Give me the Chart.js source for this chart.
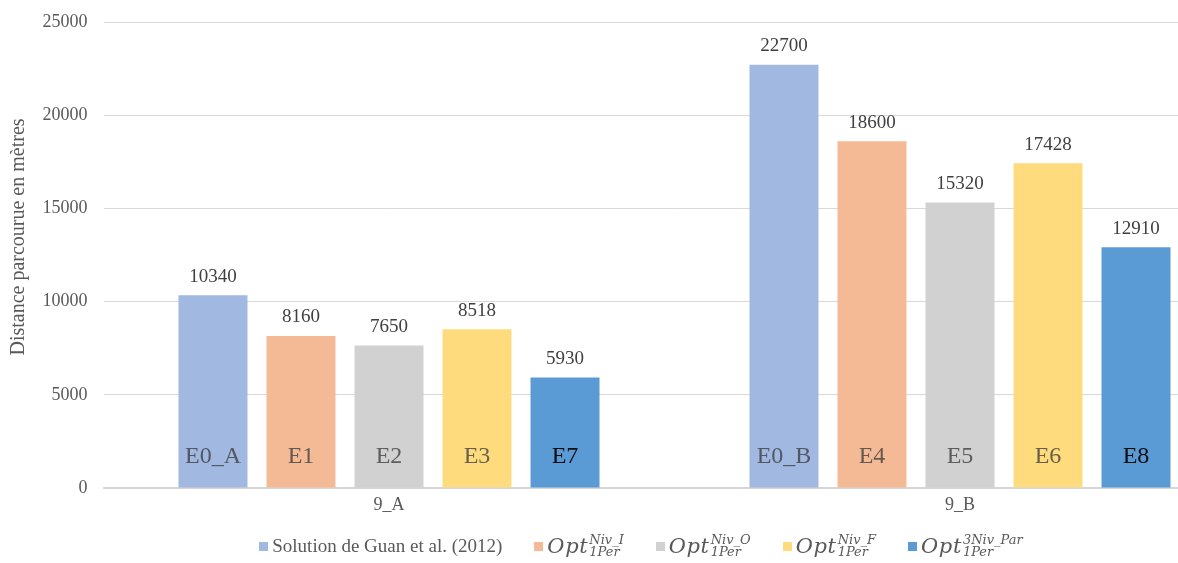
<!DOCTYPE html>
<html>
<head>
<meta charset="utf-8">
<script src="https://cdn.jsdelivr.net/npm/chart.js@4.4.1/dist/chart.umd.min.js"></script>
<style>
  html, body { margin: 0; padding: 0; background: #ffffff; width: 1178px; height: 563px; overflow: hidden; }
  #wrap { position: relative; width: 1178px; height: 563px; overflow: hidden; }
  #chart { position: absolute; left: 0; top: 0; }
  #legend {
    position: absolute; left: 0; top: 534px; width: 1282px;
    display: flex; justify-content: center; align-items: center; gap: 32px;
    font-family: "Liberation Serif", "Times New Roman", serif; color: #595959;
  }
  .item { display: flex; align-items: center; white-space: nowrap; }
  .box { width: 9px; height: 9px; margin-right: 4px; }
  .plain { font-size: 19px; }
  .opt { font-family: "DejaVu Serif", serif; font-style: italic; font-size: 21px; letter-spacing: 0.6px; }
  .scripts { display: inline-flex; flex-direction: column; font-family: "DejaVu Serif", serif; font-style: italic;
             font-size: 13px; line-height: 12px; margin-left: 1px; }
</style>
</head>
<body>
<div id="wrap">
  <canvas id="chart" width="1250" height="563"></canvas>
  <div id="legend"></div>
</div>
<script>
// Groups on the x axis
const categories = ['9_A', '9_B'];

// Distance travelled (metres) for each approach, one value per group
const guanValues = [10340, 22700];
const nivIValues = [8160, 18600];
const nivOValues = [7650, 15320];
const nivFValues = [8518, 17428];
const niv3ParValues = [5930, 12910];

// Scenario tag written at the foot of each bar
const guanTags = ['E0_A', 'E0_B'];
const nivITags = ['E1', 'E4'];
const nivOTags = ['E2', 'E5'];
const nivFTags = ['E3', 'E6'];
const niv3ParTags = ['E7', 'E8'];

// Legend entries: plain text, or Opt with superscript / subscript
const legendGuan = { text: 'Solution de Guan et al. (2012)' };
const legendNivI = { base: 'Opt', sup: 'Niv_I', sub: '1Per' };
const legendNivO = { base: 'Opt', sup: 'Niv_O', sub: '1Per' };
const legendNivF = { base: 'Opt', sup: 'Niv_F', sub: '1Per' };
const legendNiv3Par = { base: 'Opt', sup: '3Niv_Par', sub: '1Per' };

// Y axis range
const yMin = 0;
const yMax = 25000;
const yStep = 5000;
const yTitle = 'Distance parcourue en mètres';

const SERIF = '"Liberation Serif", "Times New Roman", serif';

const datasets = [
  { label: legendGuan.text, legend: legendGuan, data: guanValues, tags: guanTags, backgroundColor: '#a1b8e1', tagColor: 'rgba(60,60,60,0.78)' },
  { label: 'Opt Niv_I 1Per', legend: legendNivI, data: nivIValues, tags: nivITags, backgroundColor: '#f4ba95', tagColor: 'rgba(60,60,60,0.78)' },
  { label: 'Opt Niv_O 1Per', legend: legendNivO, data: nivOValues, tags: nivOTags, backgroundColor: '#d1d1d1', tagColor: 'rgba(60,60,60,0.78)' },
  { label: 'Opt Niv_F 1Per', legend: legendNivF, data: nivFValues, tags: nivFTags, backgroundColor: '#fedc7e', tagColor: 'rgba(60,60,60,0.78)' },
  { label: 'Opt 3Niv_Par 1Per', legend: legendNiv3Par, data: niv3ParValues, tags: niv3ParTags, backgroundColor: '#5b9bd5', tagColor: '#0d0d0d' }
].map(d => Object.assign(d, {
  borderWidth: 0,
  categoryPercentage: 0.7706,
  barPercentage: 0.784
}));

// Value above each bar, scenario tag at its foot, and the rotated y title
const barText = {
  id: 'barText',
  afterDraw(chart) {
    const ctx = chart.ctx;
    ctx.save();
    chart.data.datasets.forEach((ds, i) => {
      const meta = chart.getDatasetMeta(i);
      meta.data.forEach((bar, j) => {
        ctx.textAlign = 'center';
        ctx.textBaseline = 'bottom';
        ctx.font = '19px ' + SERIF;
        ctx.fillStyle = '#404040';
        ctx.fillText(String(ds.data[j]), bar.x, bar.y - 9);

        ctx.textBaseline = 'middle';
        ctx.font = '24px ' + SERIF;
        ctx.fillStyle = ds.tagColor;
        ctx.fillText(ds.tags[j], bar.x, bar.base - 31);
      });
    });
    ctx.translate(19, 237);
    ctx.rotate(-Math.PI / 2);
    ctx.textAlign = 'center';
    ctx.textBaseline = 'middle';
    ctx.font = '20px ' + SERIF;
    ctx.fillStyle = '#595959';
    ctx.fillText(yTitle, 0, 0);
    ctx.restore();
  }
};

const chart = new Chart(document.getElementById('chart'), {
  type: 'bar',
  data: { labels: categories, datasets },
  options: {
    responsive: false,
    animation: false,
    devicePixelRatio: 1,
    layout: { padding: { top: 22, right: 4.5, left: 0, bottom: 0 } },
    plugins: { legend: { display: false }, tooltip: { enabled: false } },
    scales: {
      x: {
        offset: true,
        grid: { display: false, drawTicks: false },
        border: { display: true, color: '#d6d6d6', width: 2 },
        ticks: { padding: 6, color: '#595959', font: { family: SERIF, size: 18 } },
        afterFit(scale) { scale.height = 75; }
      },
      y: {
        min: yMin,
        max: yMax,
        z: 1,
        grid: { color: 'rgba(0,0,0,0.15)', lineWidth: 1, drawTicks: false },
        border: { display: false },
        ticks: {
          stepSize: yStep, padding: 16, color: '#595959',
          font: { family: SERIF, size: 18 },
          callback: v => String(v)
        },
        afterFit(scale) {
          scale.width = 103.5;
          scale.paddingTop = 0;
          scale.paddingBottom = 0;
        }
      }
    }
  },
  plugins: [barText]
});

// HTML legend built from the chart's datasets
const legendEl = document.getElementById('legend');
chart.data.datasets.forEach(ds => {
  const item = document.createElement('div');
  item.className = 'item';
  const box = document.createElement('span');
  box.className = 'box';
  box.style.background = ds.backgroundColor;
  item.appendChild(box);
  const lg = ds.legend;
  if (lg.text) {
    const t = document.createElement('span');
    t.className = 'plain';
    t.textContent = lg.text;
    item.appendChild(t);
  } else {
    const b = document.createElement('span');
    b.className = 'opt';
    b.textContent = lg.base;
    item.appendChild(b);
    const s = document.createElement('span');
    s.className = 'scripts';
    const sup = document.createElement('span');
    sup.textContent = lg.sup;
    const sub = document.createElement('span');
    sub.textContent = lg.sub;
    s.appendChild(sup);
    s.appendChild(sub);
    item.appendChild(s);
  }
  legendEl.appendChild(item);
});
</script>
</body>
</html>
